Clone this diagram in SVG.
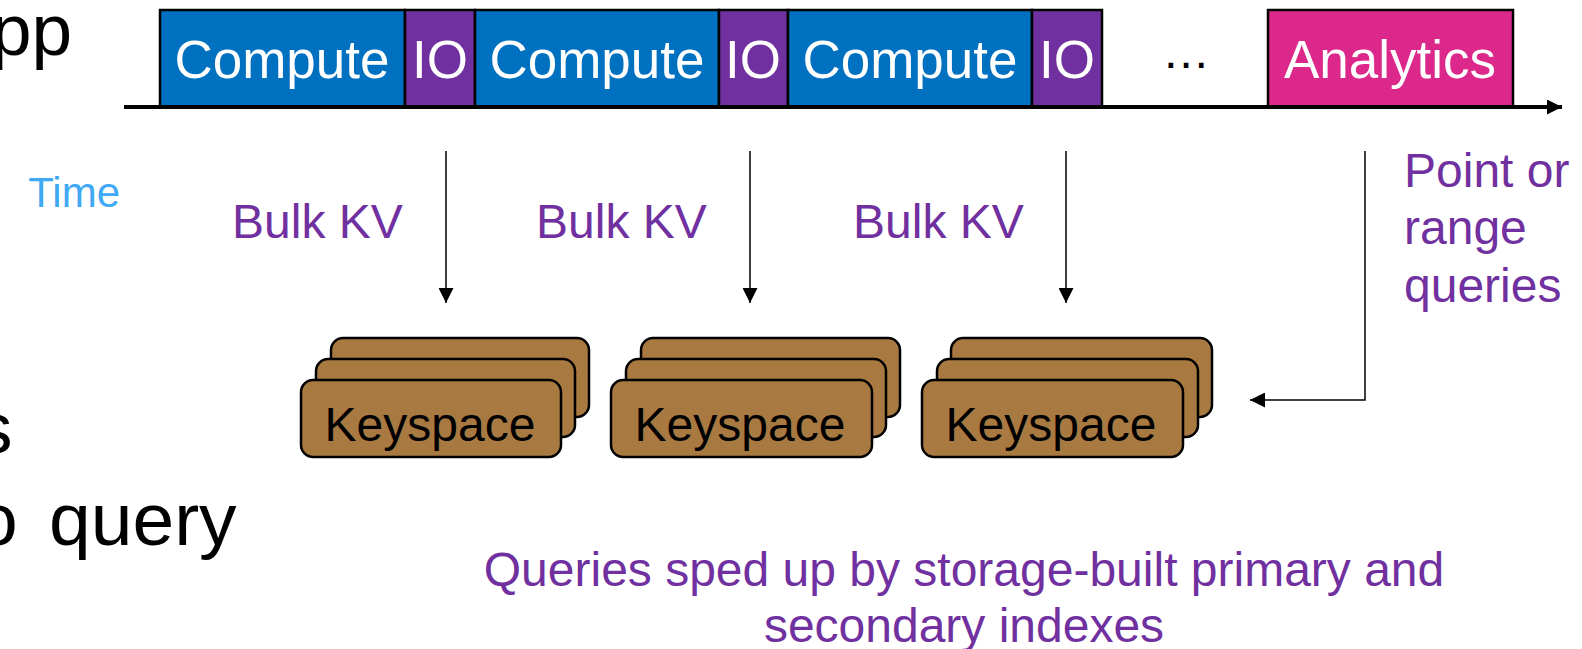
<svg xmlns="http://www.w3.org/2000/svg" width="1582" height="649" viewBox="0 0 1582 649">
  <style>
    .bg{fill:#ffffff}
    .blk{stroke:#000;stroke-width:2.5}
    .compute{fill:#0070c0}
    .io{fill:#7030a0}
    .ana{fill:#dc288a}
    .ks{fill:#a97942;stroke:#000;stroke-width:2.5}
    .wt{font-family:"Liberation Sans",Arial,sans-serif;font-size:53px;fill:#fff;text-anchor:middle}
    .pt{font-family:"Liberation Sans",Arial,sans-serif;font-size:48px;fill:#7030a0}
    .kt{font-family:"Liberation Sans",Arial,sans-serif;font-size:48px;fill:#000;text-anchor:middle}
    .big{font-family:"Liberation Sans",Arial,sans-serif;font-size:73px;fill:#000}
    .big75{font-size:75px}
    .conn{stroke:#000;stroke-width:1.5;fill:none}
  </style>
  <defs>
    <marker id="ahs" viewBox="0 0 10 10" refX="10" refY="5" markerWidth="15" markerHeight="15" markerUnits="userSpaceOnUse" orient="auto">
      <path d="M0,0 L10,5 L0,10 z" fill="#000"/>
    </marker>
  </defs>
  <rect class="bg" x="0" y="0" width="1582" height="649"/>

  <!-- partial slide text at left -->
  <text class="big" x="-9" y="55">pp</text>
  <text class="big" x="-24" y="453">s</text>
  <text class="big big75" x="-24" y="545">o <tspan x="49">query</tspan></text>

  <!-- timeline boxes -->
  <g id="compute1"><rect class="compute blk" x="160" y="10" width="245" height="97"/><text class="wt" x="282" y="78">Compute</text></g>
  <g id="io1"><rect class="io blk" x="405" y="10" width="70" height="97"/><text class="wt" x="440" y="78">IO</text></g>
  <g id="compute2"><rect class="compute blk" x="475" y="10" width="244" height="97"/><text class="wt" x="597" y="78">Compute</text></g>
  <g id="io2"><rect class="io blk" x="719" y="10" width="69" height="97"/><text class="wt" x="753" y="78">IO</text></g>
  <g id="compute3"><rect class="compute blk" x="788" y="10" width="244" height="97"/><text class="wt" x="910" y="78">Compute</text></g>
  <g id="io3"><rect class="io blk" x="1032" y="10" width="70" height="97"/><text class="wt" x="1067" y="78">IO</text></g>
  <g id="ellipsis"><text class="kt" x="1186" y="68">…</text></g>
  <g id="analytics"><rect class="ana blk" x="1268" y="10" width="245" height="97"/><text class="wt" x="1390" y="78">Analytics</text></g>

  <!-- labels -->
  <g id="time-label"><text x="120" y="207" font-family="Liberation Sans, Arial, sans-serif" font-size="42" fill="#3fa9f5" text-anchor="end">Time</text></g>
  <g id="bulk1"><text class="pt" x="232" y="238">Bulk KV</text></g>
  <g id="bulk2"><text class="pt" x="536" y="238">Bulk KV</text></g>
  <g id="bulk3"><text class="pt" x="853" y="238">Bulk KV</text></g>
  <g id="queries-label">
    <text class="pt" x="1404" y="187">Point or</text>
    <text class="pt" x="1404" y="244">range</text>
    <text class="pt" x="1404" y="302">queries</text>
  </g>

  <!-- keyspace stacks -->
  <g id="keyspace1">
    <rect class="ks" x="331" y="338" width="258" height="79" rx="12"/>
    <rect class="ks" x="316" y="359" width="259" height="78" rx="12"/>
    <rect class="ks" x="301" y="380" width="260" height="77" rx="12"/>
    <text class="kt" x="430" y="441">Keyspace</text>
  </g>
  <g id="keyspace2">
    <rect class="ks" x="641" y="338" width="259" height="79" rx="12"/>
    <rect class="ks" x="626" y="359" width="260" height="78" rx="12"/>
    <rect class="ks" x="611" y="380" width="261" height="77" rx="12"/>
    <text class="kt" x="740" y="441">Keyspace</text>
  </g>
  <g id="keyspace3">
    <rect class="ks" x="951" y="338" width="261" height="79" rx="12"/>
    <rect class="ks" x="937" y="359" width="261" height="78" rx="12"/>
    <rect class="ks" x="922" y="380" width="261" height="77" rx="12"/>
    <text class="kt" x="1051" y="441">Keyspace</text>
  </g>

  <g id="caption">
    <text class="pt" x="964" y="586" text-anchor="middle">Queries sped up by storage-built primary and</text>
    <text class="pt" x="964" y="642" text-anchor="middle">secondary indexes</text>
  </g>

  <!-- connectors -->
  <g id="connectors">
    <line x1="124" y1="107" x2="1562" y2="107" stroke="#000" stroke-width="4" marker-end="url(#ahs)"/>
    <line class="conn" x1="446" y1="151" x2="446" y2="303" marker-end="url(#ahs)"/>
    <line class="conn" x1="750" y1="151" x2="750" y2="303" marker-end="url(#ahs)"/>
    <line class="conn" x1="1066" y1="151" x2="1066" y2="303" marker-end="url(#ahs)"/>
    <polyline class="conn" points="1365,151 1365,400 1250,400" marker-end="url(#ahs)"/>
  </g>
</svg>
